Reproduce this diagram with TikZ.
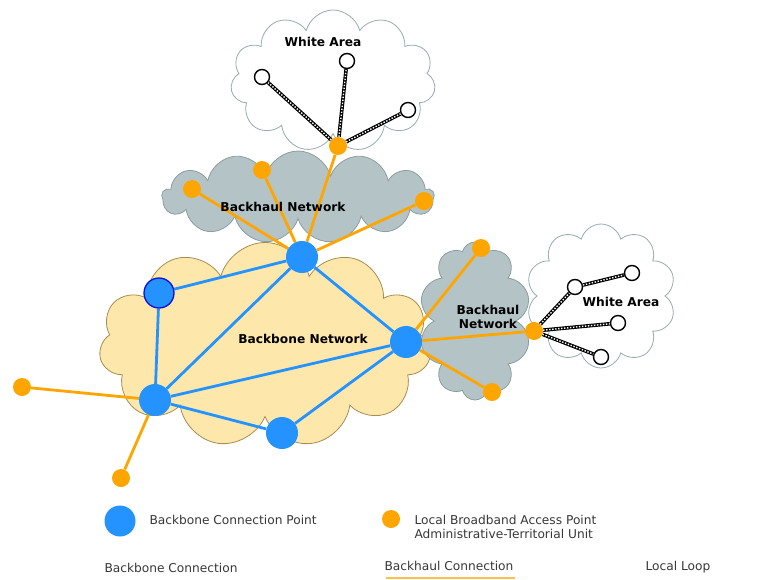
\documentclass[tikz,border=0pt]{standalone}
\usepackage{fontspec}
\setsansfont{DejaVu Sans}
\newfontfamily\legendfont{DejaVu Sans}
\usetikzlibrary{shapes.symbols}

\definecolor{bbblue}{RGB}{36,147,255}
\definecolor{bbedge}{RGB}{16,16,214}
\definecolor{bhorange}{RGB}{255,165,0}
\definecolor{bhgray}{RGB}{180,196,198}
\definecolor{bhline}{RGB}{140,158,160}
\definecolor{waline}{RGB}{150,172,174}
\definecolor{bbfill}{RGB}{253,231,170}
\definecolor{bbline}{RGB}{168,140,80}
\definecolor{legendgray}{RGB}{55,55,55}

\pgfdeclarelayer{clouds}
\pgfdeclarelayer{links}
\pgfsetlayers{clouds,links,main}

\begin{document}
\begin{tikzpicture}[x=1pt, y=-1pt,
        area cloud/.style={cloud, cloud puffs=11, cloud ignores aspect, draw, inner sep=0pt},
        white cloud/.style={area cloud, fill=white, draw=waline, line width=0.8pt},
        backhaul cloud/.style={area cloud, fill=bhgray, draw=bhline, line width=0.8pt},
        backbone cloud/.style={area cloud, fill=bbfill, draw=bbline, line width=0.8pt},
        cloud label/.style={font=\sffamily\bfseries\fontsize{12.2}{14.5}\selectfont, align=center},
        backbone node/.style={circle, fill=bbblue, minimum size=32, inner sep=0pt},
        access node/.style={circle, fill=bhorange, minimum size=18, inner sep=0pt},
        user node/.style={circle, draw=black, fill=white, line width=1.4pt, minimum size=15, inner sep=0pt},
        backbone link/.style={draw=bbblue, line width=2.8pt},
        backhaul link/.style={draw=bhorange, line width=2.8pt},
        local loop/.style={draw=black, line width=3.6pt,
            postaction={draw=white, line width=1.4pt, dash pattern=on 1.4pt off 1.6pt}},
        legend text/.style={font=\legendfont\fontsize{12.2}{14}\selectfont, text=legendgray, anchor=west, align=left}]
    \useasboundingbox (0,0) rectangle (770,579);

    % clouds
    \begin{pgfonlayer}{clouds}
        \node[white cloud, minimum width=205, minimum height=142] (topwhite) at (333,81) {};
        \node[white cloud, cloud puffs=10, minimum width=150, minimum height=144] (rightwhite) at (601,296) {};
        \node[backbone cloud, minimum width=332, minimum height=205] (backbone) at (265,345) {};
        \node[backhaul cloud, cloud puffs=13, minimum width=272, minimum height=92] (tophaul) at (298,197) {};
        \node[backhaul cloud, cloud puffs=10, minimum width=112, minimum height=158] (righthaul) at (475,321) {};
    \end{pgfonlayer}

    \node[cloud label] at (323,42) {White Area};
    \node[cloud label] at (621,302) {White Area};
    \node[cloud label] at (283,207) {Backhaul Network};
    \node[cloud label] at (488,317) {Backhaul\\Network};
    \node[cloud label] at (303,339) {Backbone Network};

    % backbone connection points
    \node[backbone node] (bbtop) at (302,257) {};
    \node[backbone node, draw=bbedge, line width=1.3pt, minimum size=30] (bbleft) at (159,293) {};
    \node[backbone node] (bbright) at (406,342) {};
    \node[backbone node] (bbcorner) at (155,400) {};
    \node[backbone node] (bbbottom) at (282,433) {};

    % local broadband access points
    \node[access node] (ap1) at (192,189) {};
    \node[access node] (ap2) at (262,170) {};
    \node[access node] (ap3) at (338,146) {};
    \node[access node] (ap4) at (424,201) {};
    \node[access node] (ap5) at (481,248) {};
    \node[access node] (ap6) at (534,331) {};
    \node[access node] (ap7) at (492,392) {};
    \node[access node] (ap8) at (22,387) {};
    \node[access node] (ap9) at (121,478) {};

    % white area users
    \node[user node] (wa1) at (262,77) {};
    \node[user node] (wa2) at (347,61) {};
    \node[user node] (wa3) at (408,110) {};
    \node[user node] (wa4) at (575,287) {};
    \node[user node] (wa5) at (632,273) {};
    \node[user node] (wa6) at (618,323) {};
    \node[user node] (wa7) at (601,357) {};

    \begin{pgfonlayer}{links}
        \path[backbone link]
            (bbtop) edge (bbleft)
            (bbtop) edge (bbcorner)
            (bbtop) edge (bbright)
            (bbleft) edge (bbcorner)
            (bbcorner) edge (bbright)
            (bbcorner) edge (bbbottom)
            (bbbottom) edge (bbright);
        \path[backhaul link]
            (bbtop) edge (ap1)
            (bbtop) edge (ap2)
            (bbtop) edge (ap3)
            (bbtop) edge (ap4)
            (bbright) edge (ap5)
            (bbright) edge (ap6)
            (bbright) edge (ap7)
            (bbcorner) edge (ap8)
            (bbcorner) edge (ap9);
        \draw[local loop] (ap3) -- (wa1);
        \draw[local loop] (ap3) -- (wa2);
        \draw[local loop] (ap3) -- (wa3);
        \draw[local loop] (ap6) -- (wa4);
        \draw[local loop] (wa4) -- (wa5);
        \draw[local loop] (ap6) -- (wa6);
        \draw[local loop] (ap6) -- (wa7);
    \end{pgfonlayer}

    % legend
    \node[backbone node, minimum size=31] (keybb) at (120,521) {};
    \node[legend text] at (146,520) {Backbone Connection Point};
    \node[access node] (keyap) at (391,519) {};
    \node[legend text] at (411,527) {Local Broadband Access Point\\Administrative-Territorial Unit};
    \node[legend text] (keybbline) at (101,568) {Backbone Connection};
    \node[legend text] (keybhline) at (381,566) {Backhaul Connection};
    \node[legend text] (keyloop) at (642,567) {Local Loop};
    \coordinate (bhstart) at (386,578);
    \coordinate (bhend) at (515,578);
    \draw[bhorange!70, line width=2pt] (bhstart) -- (bhend);
\end{tikzpicture}
\end{document}
